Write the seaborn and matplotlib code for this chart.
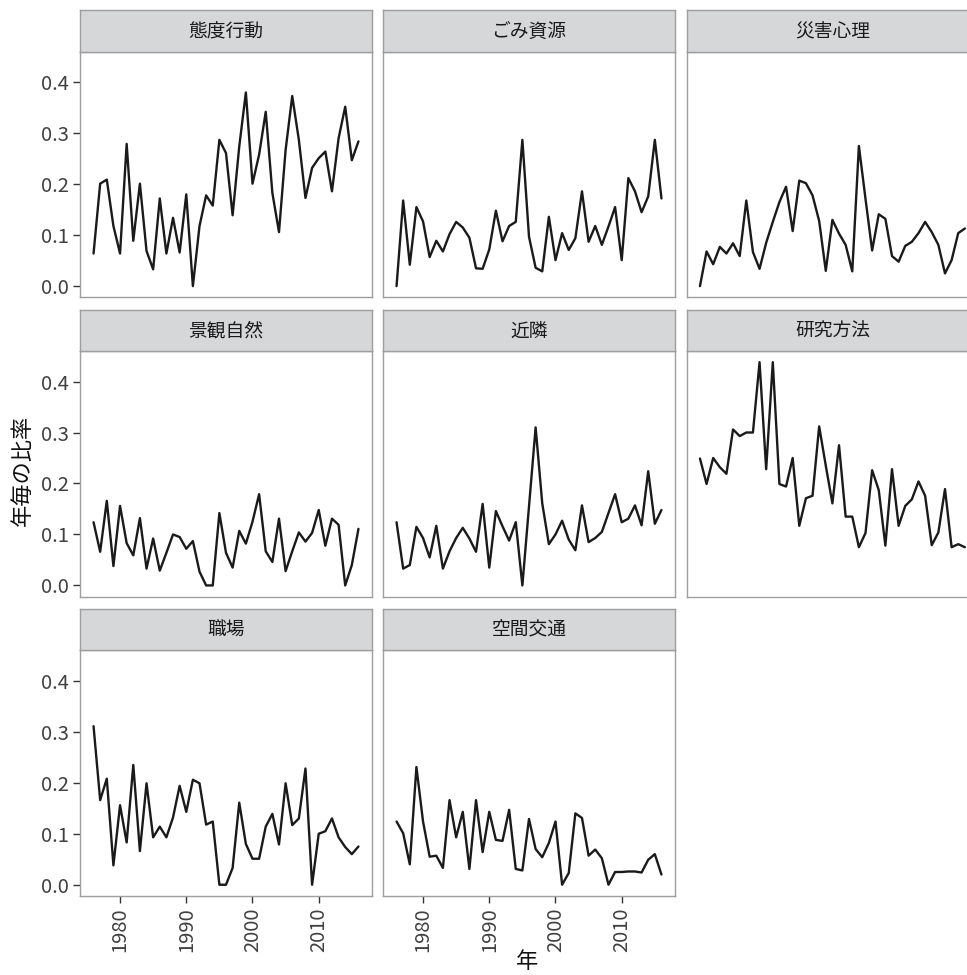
import numpy as np
import pandas as pd
import matplotlib
matplotlib.use("Agg")
import matplotlib.pyplot as plt
import seaborn as sns

sns.set_theme(style="white")
plt.rcParams["font.family"] = ["Noto Sans CJK JP", "DejaVu Sans"]

years = list(range(1976, 2017))

topics = ["態度行動", "ごみ資源", "災害心理", "景観自然", "近隣", "研究方法", "職場", "空間交通"]

taido_kodo = [0.064, 0.201, 0.209, 0.118, 0.064, 0.279, 0.089, 0.201, 0.069, 0.033,
              0.172, 0.064, 0.134, 0.066, 0.180, 0.000, 0.118, 0.178, 0.158, 0.287,
              0.261, 0.139, 0.274, 0.380, 0.201, 0.258, 0.342, 0.183, 0.106, 0.267,
              0.373, 0.287, 0.173, 0.232, 0.251, 0.264, 0.186, 0.290, 0.352, 0.247,
              0.284]
gomi_shigen = [0.000, 0.168, 0.042, 0.155, 0.127, 0.057, 0.089, 0.068, 0.102, 0.126,
               0.115, 0.095, 0.035, 0.034, 0.072, 0.148, 0.088, 0.118, 0.126, 0.287,
               0.097, 0.036, 0.029, 0.136, 0.051, 0.104, 0.071, 0.094, 0.186, 0.087,
               0.118, 0.081, 0.117, 0.155, 0.051, 0.212, 0.186, 0.145, 0.176, 0.287,
               0.172]
saigai_shinri = [0.000, 0.068, 0.043, 0.077, 0.064, 0.084, 0.059, 0.168, 0.067, 0.034,
                 0.085, 0.126, 0.165, 0.195, 0.108, 0.207, 0.202, 0.178, 0.128, 0.030,
                 0.130, 0.103, 0.081, 0.029, 0.275, 0.171, 0.070, 0.141, 0.132, 0.059,
                 0.048, 0.079, 0.087, 0.104, 0.126, 0.106, 0.081, 0.025, 0.051, 0.104,
                 0.113]
keikan_shizen = [0.124, 0.066, 0.166, 0.038, 0.156, 0.083, 0.059, 0.132, 0.033, 0.092,
                 0.029, 0.064, 0.100, 0.095, 0.072, 0.087, 0.027, 0.000, 0.000, 0.142,
                 0.064, 0.035, 0.107, 0.082, 0.125, 0.179, 0.067, 0.046, 0.131, 0.028,
                 0.067, 0.104, 0.086, 0.103, 0.148, 0.078, 0.131, 0.119, 0.000, 0.040,
                 0.111]
kinrin = [0.124, 0.033, 0.040, 0.115, 0.093, 0.055, 0.117, 0.033, 0.067, 0.093,
          0.113, 0.092, 0.066, 0.160, 0.035, 0.146, 0.116, 0.088, 0.124, 0.000,
          0.155, 0.310, 0.161, 0.081, 0.100, 0.127, 0.090, 0.069, 0.157, 0.085,
          0.093, 0.105, 0.142, 0.179, 0.124, 0.131, 0.157, 0.118, 0.224, 0.121,
          0.148]
kenkyu_hoho = [0.249, 0.199, 0.250, 0.232, 0.219, 0.306, 0.293, 0.300, 0.300, 0.438,
               0.228, 0.438, 0.199, 0.194, 0.250, 0.117, 0.171, 0.176, 0.312, 0.235,
               0.161, 0.275, 0.135, 0.135, 0.075, 0.103, 0.226, 0.187, 0.078, 0.228,
               0.117, 0.156, 0.169, 0.204, 0.176, 0.079, 0.104, 0.189, 0.075, 0.081,
               0.075]
shokuba = [0.311, 0.166, 0.208, 0.038, 0.156, 0.083, 0.235, 0.066, 0.199, 0.093,
           0.114, 0.093, 0.132, 0.194, 0.143, 0.206, 0.199, 0.118, 0.124, 0.000,
           0.000, 0.033, 0.161, 0.080, 0.051, 0.051, 0.114, 0.139, 0.079, 0.199,
           0.117, 0.130, 0.228, 0.000, 0.100, 0.105, 0.130, 0.093, 0.074, 0.060,
           0.075]
kukan_kotsu = [0.124, 0.101, 0.040, 0.231, 0.124, 0.055, 0.057, 0.033, 0.166, 0.093,
               0.143, 0.031, 0.166, 0.064, 0.143, 0.088, 0.086, 0.147, 0.031, 0.028,
               0.129, 0.070, 0.054, 0.082, 0.124, 0.000, 0.023, 0.140, 0.131, 0.057,
               0.069, 0.052, 0.000, 0.025, 0.025, 0.026, 0.026, 0.024, 0.049, 0.060,
               0.020]

series = [taido_kodo, gomi_shigen, saigai_shinri, keikan_shizen,
          kinrin, kenkyu_hoho, shokuba, kukan_kotsu]

df = pd.DataFrame({
    "年": years * len(topics),
    "比率": np.concatenate(series),
    "分野": np.repeat(topics, len(years)),
})

y_ticks = [0.0, 0.1, 0.2, 0.3, 0.4]
y_ticklabels = ["0.0", "0.1", "0.2", "0.3", "0.4"]
x_ticks = [1980, 1990, 2000, 2010]

W, H = 967, 975
fig = plt.figure(figsize=(W / 100, H / 100), dpi=100)

col_left = [80.3, 383.3, 686.7]
panel_w = 291.4
row_top = [51.7, 351.0, 650.3]
panel_h = 245.6
strip_h = 41.5

border = "#9E9E9E"
line_color = "#1A1A1A"
tick_color = "#404040"

for i, topic in enumerate(topics):
    r, c = divmod(i, 3)
    left = col_left[c] / W
    bottom = 1 - (row_top[r] + panel_h) / H
    ax = fig.add_axes([left, bottom, panel_w / W, panel_h / H])
    sns.lineplot(data=df[df["分野"] == topic], x="年", y="比率", ax=ax,
                 color=line_color, linewidth=1.7, errorbar=None)
    ax.set_xlim(1974, 2018)
    ax.set_ylim(-0.0219, 0.4599)
    ax.set_facecolor("white")
    for s in ax.spines.values():
        s.set_color(border)
        s.set_linewidth(1.0)
    ax.set_xlabel("")
    ax.set_ylabel("")
    ax.grid(False)

    ax.set_yticks(y_ticks)
    ax.set_xticks(x_ticks)
    ax.tick_params(axis="both", length=5, width=1.0, color="#333333",
                   labelcolor=tick_color, labelsize=14.5, pad=3)
    if c == 0:
        ax.set_yticklabels(y_ticklabels)
        ax.tick_params(axis="y", left=True)
    else:
        ax.tick_params(axis="y", left=False, labelleft=False)
    if i >= 6:
        ax.set_xticklabels([str(x) for x in x_ticks], rotation=90)
        ax.tick_params(axis="x", bottom=True)
    else:
        ax.tick_params(axis="x", bottom=False, labelbottom=False)

    # facet strip
    sax = fig.add_axes([left, 1 - row_top[r] / H, panel_w / W, strip_h / H])
    sax.set_facecolor("#D6D7D9")
    sax.set_xticks([])
    sax.set_yticks([])
    for s in sax.spines.values():
        s.set_color(border)
        s.set_linewidth(1.0)
    sax.text(0.5, 0.48, topic, ha="center", va="center", fontsize=13.5,
             color="#1A1A1A", transform=sax.transAxes)

fig.text(22 / W, 1 - 470 / H, "年毎の比率", rotation=90, ha="center", va="center",
         fontsize=16, color="#111111")
fig.text(527 / W, 1 - 962 / H, "年", ha="center", va="center",
         fontsize=16, color="#111111")

fig.savefig("out.png", dpi=100, facecolor="white")
